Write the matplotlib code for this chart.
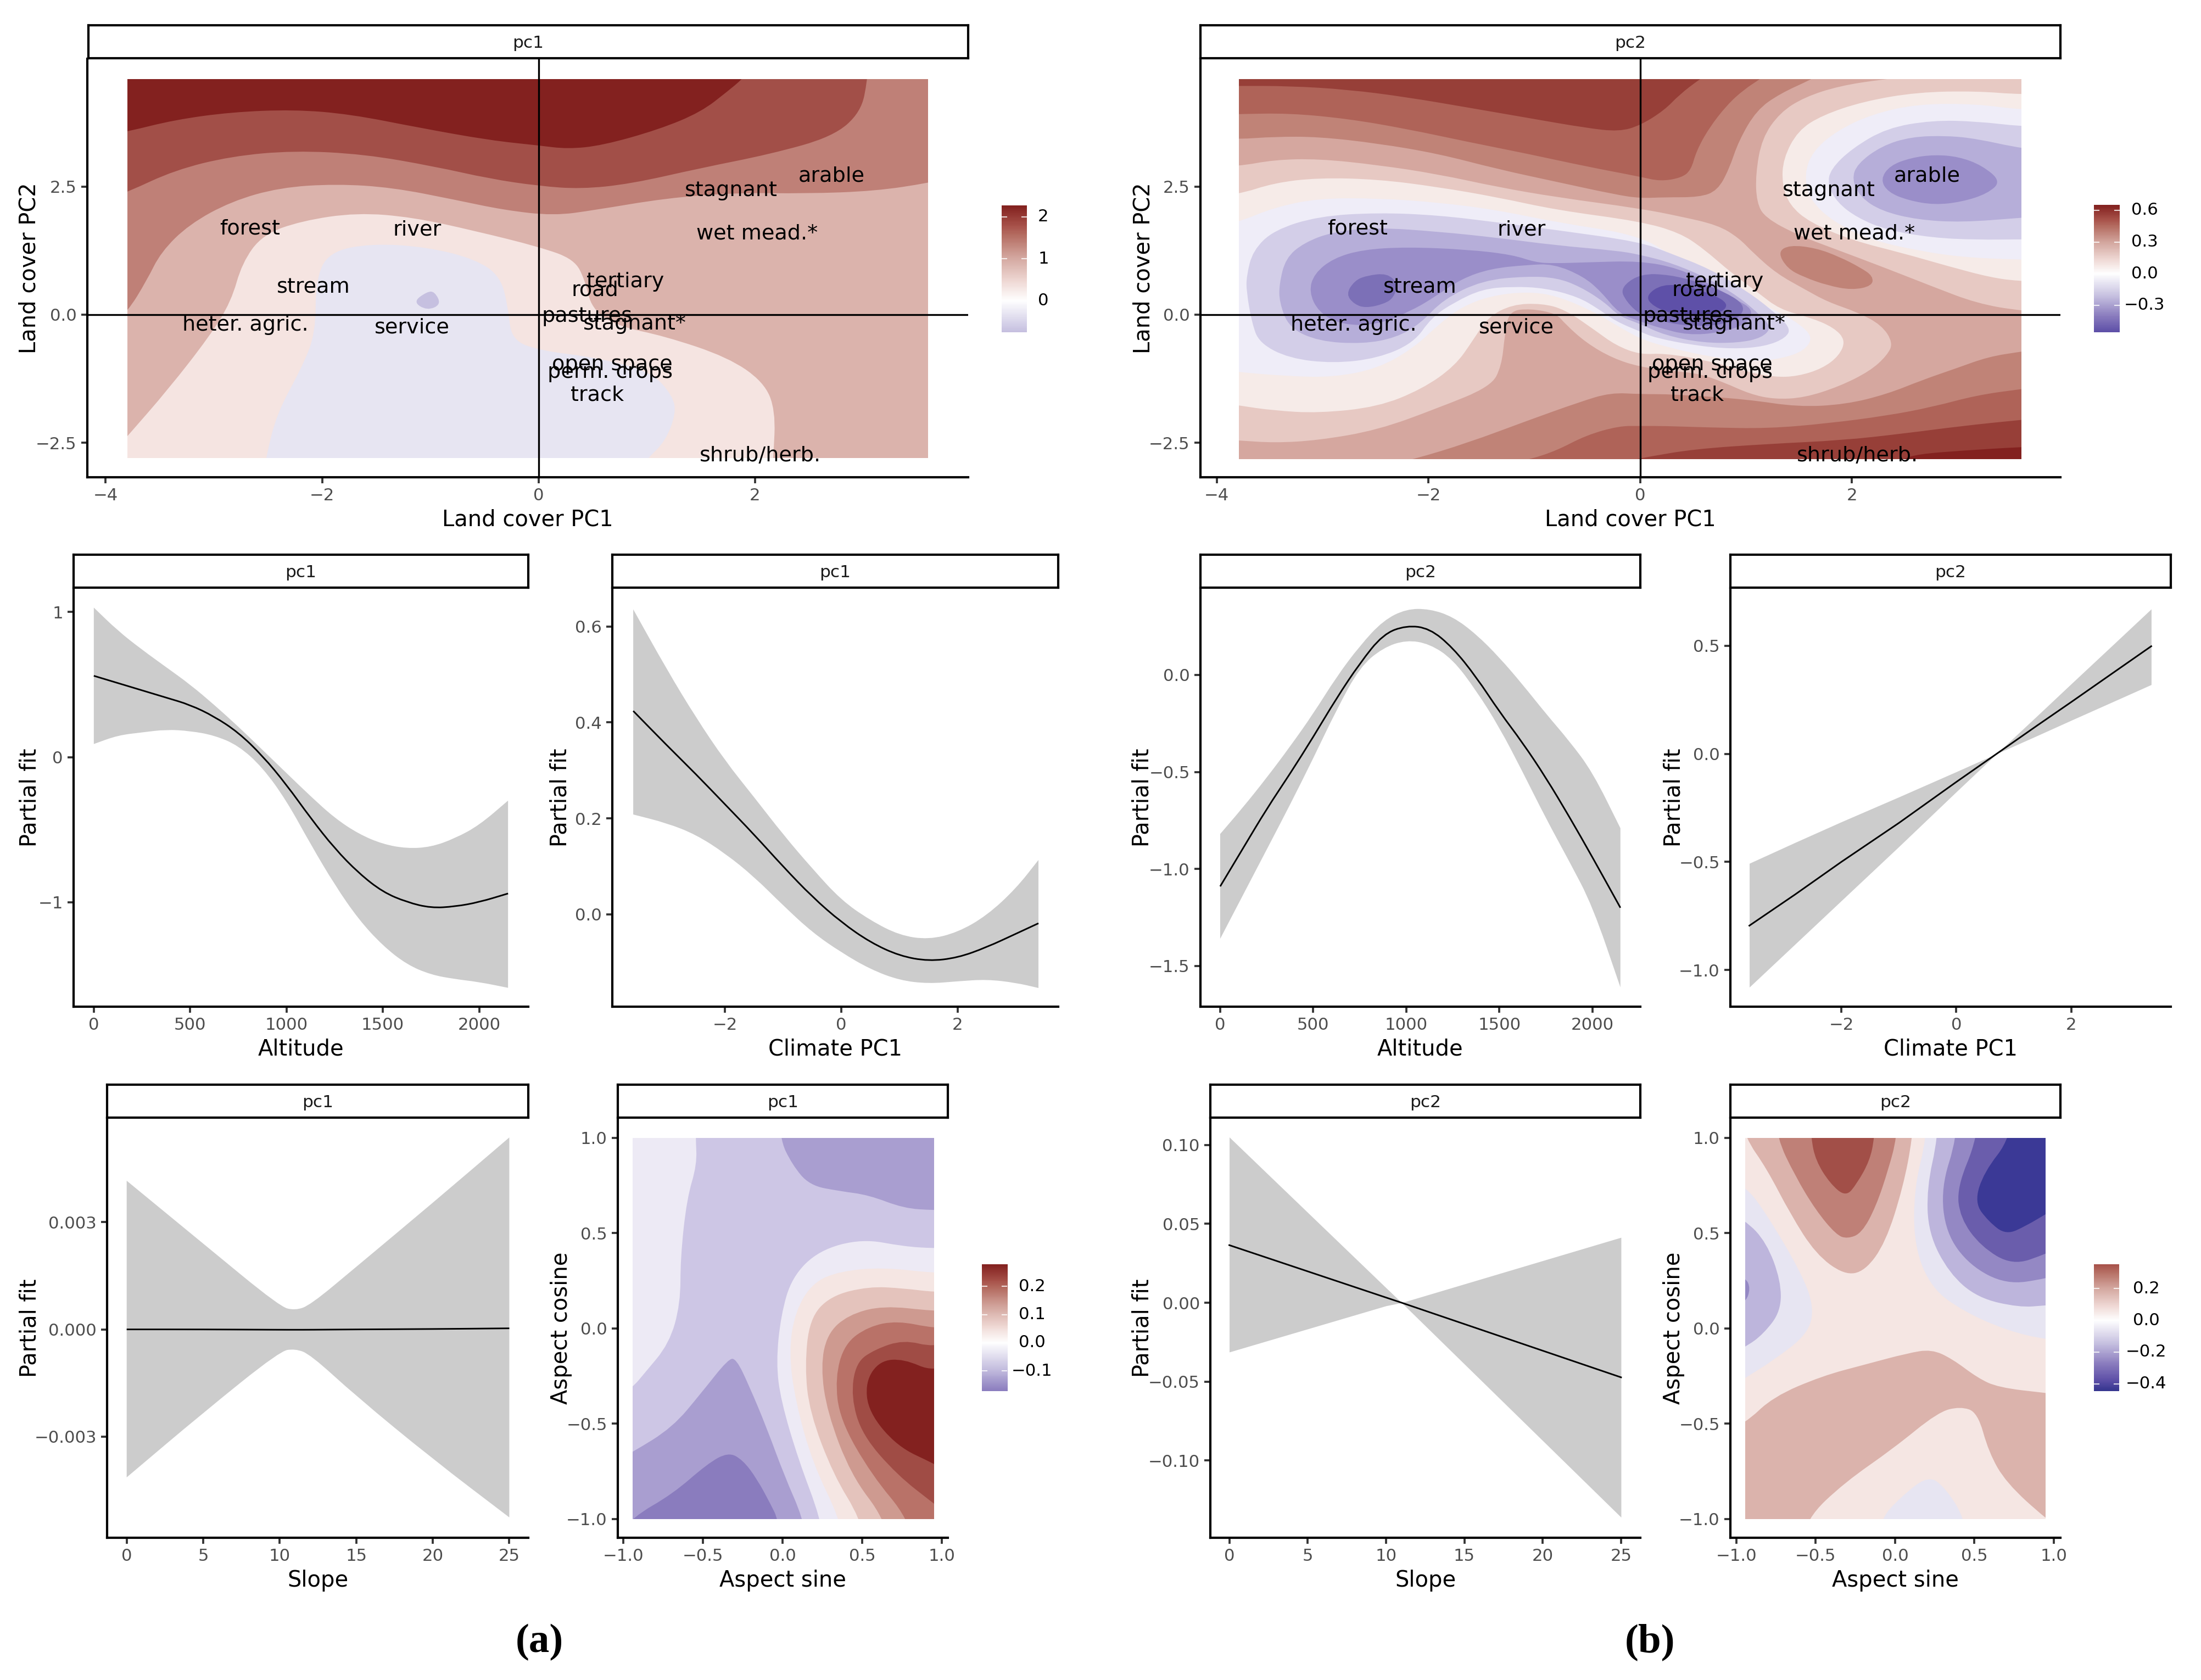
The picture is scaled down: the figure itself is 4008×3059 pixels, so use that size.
import numpy as np
import matplotlib
matplotlib.use('Agg')
import matplotlib.pyplot as plt
from matplotlib.colors import LinearSegmentedColormap, Normalize
from matplotlib.patches import PathPatch, Rectangle
from matplotlib.path import Path

plt.rcParams['font.family'] = 'DejaVu Sans'

W, H = 4008, 3059

# ---- smooth fits ----
alt_x = [0, 125, 250, 375, 500, 625, 750, 875, 1000, 1125, 1250, 1375, 1500, 1625, 1750, 1875, 2000, 2150]
alt1_fit = [0.56, 0.51, 0.46, 0.41, 0.36, 0.28, 0.17, 0.01, -0.19, -0.42, -0.63, -0.80, -0.93, -1.00, -1.04, -1.03, -1.00, -0.94]
alt1_hi = [1.03, 0.87, 0.74, 0.62, 0.50, 0.36, 0.21, 0.05, -0.11, -0.27, -0.42, -0.53, -0.60, -0.63, -0.62, -0.56, -0.47, -0.30]
alt1_lo = [0.09, 0.15, 0.17, 0.19, 0.18, 0.15, 0.08, -0.07, -0.30, -0.60, -0.88, -1.12, -1.30, -1.43, -1.50, -1.53, -1.55, -1.59]
alt2_fit = [-1.09, -0.89, -0.69, -0.51, -0.32, -0.12, 0.06, 0.21, 0.255, 0.24, 0.14, -0.01, -0.19, -0.35, -0.53, -0.73, -0.94, -1.20]
alt2_hi = [-0.82, -0.68, -0.53, -0.37, -0.20, -0.01, 0.15, 0.28, 0.34, 0.34, 0.30, 0.21, 0.09, -0.05, -0.20, -0.34, -0.50, -0.79]
alt2_lo = [-1.36, -1.13, -0.90, -0.67, -0.43, -0.18, 0.04, 0.14, 0.18, 0.16, 0.08, -0.08, -0.27, -0.50, -0.74, -0.96, -1.19, -1.61]

clim1_x = [-3.58, -3, -2.5, -2, -1.5, -1, -0.5, 0, 0.5, 1, 1.5, 2, 2.5, 3, 3.39]
clim1_fit = [0.424, 0.352, 0.292, 0.229, 0.166, 0.099, 0.036, -0.017, -0.059, -0.087, -0.098, -0.091, -0.069, -0.041, -0.019]
clim1_hi = [0.636, 0.51, 0.41, 0.32, 0.244, 0.166, 0.095, 0.029, -0.013, -0.044, -0.053, -0.038, -0.003, 0.053, 0.113]
clim1_lo = [0.208, 0.19, 0.166, 0.127, 0.078, 0.018, -0.038, -0.08, -0.115, -0.138, -0.145, -0.14, -0.136, -0.143, -0.154]
clim2_x = [-3.6, -2.8, -2, -1, 0, 0.7, 1.4, 2, 2.7, 3.39]
clim2_fit = [-0.795, -0.65, -0.50, -0.32, -0.13, 0.0, 0.13, 0.24, 0.37, 0.498]
clim2_hi = [-0.507, -0.41, -0.315, -0.20, -0.083, 0.0, 0.174, 0.324, 0.498, 0.67]
clim2_lo = [-1.08, -0.88, -0.68, -0.43, -0.176, 0.0, 0.083, 0.155, 0.238, 0.32]

slope1_x = [0, 5, 10, 11, 12, 15, 20, 25]
slope1_fit = [0.0, 0.0, -0.00001, -0.00001, -0.00001, 0.0, 0.00001, 0.00003]
slope1_hi = [0.00416, 0.0024, 0.00064, 0.00053, 0.00068, 0.00175, 0.00354, 0.00537]
slope1_lo = [-0.00414, -0.00233, -0.00061, -0.00054, -0.0007, -0.00187, -0.00363, -0.00526]
slope2_x = [0, 10, 11, 25]
slope2_fit = [0.0365, 0.0033, 0.0, -0.0473]
slope2_hi = [0.105, 0.0095, 0.0, 0.0414]
slope2_lo = [-0.0313, -0.002, 0.0, -0.136]

# ---- land cover labels ----
lc_labels = ['forest', 'river', 'stream', 'heter. agric.', 'service', 'tertiary', 'road', 'pastures',
             'stagnant*', 'open space', 'perm. crops', 'track', 'shrub/herb.', 'wet mead.*', 'stagnant', 'arable']
lc_x = [-2.67, -1.12, -2.08, -2.71, -1.17, 0.80, 0.52, 0.45, 0.89, 0.68, 0.66, 0.54, 2.05, 2.02, 1.78, 2.71]
lc_y = [1.68, 1.65, 0.53, -0.20, -0.25, 0.64, 0.48, -0.03, -0.18, -0.97, -1.12, -1.57, -2.75, 1.58, 2.42, 2.70]

# ---- contour outlines, land cover pc1 ----
lc1_a = [(-4.1, 3.45), (-3.80, 3.57), (-3.36, 3.80), (-2.84, 3.95), (-2.26, 4.00), (-1.74, 3.91), (-1.09, 3.64),
         (-0.45, 3.40), (0, 3.30), (0.27, 3.23), (0.59, 3.30), (1.11, 3.61), (1.50, 3.95), (1.75, 4.36), (1.88, 4.59),
         (2.05, 4.97), (5, 5.5), (6, -5), (-6, -5)]
lc1_b = [(-4.1, 2.15), (-3.80, 2.39), (-3.36, 2.82), (-2.84, 3.09), (-2.26, 3.20), (-1.61, 3.13), (-0.96, 2.89),
         (-0.45, 2.65), (0, 2.51), (0.39, 2.45), (0.85, 2.55), (1.50, 2.86), (2.14, 3.13), (2.72, 3.47), (2.98, 3.95),
         (3.04, 4.59), (3.05, 5.0), (5, 5.5), (6, -5), (-6, -5)]
lc1_c = [(-4.0, -0.3), (-3.80, 0.05), (-3.62, 0.67), (-3.49, 1.22), (-3.23, 1.76), (-2.84, 2.21), (-2.39, 2.48),
         (-1.87, 2.55), (-1.35, 2.48), (-0.77, 2.24), (-0.32, 2.04), (0.14, 1.93), (0.52, 2.04), (1.17, 2.27),
         (1.82, 2.38), (2.47, 2.36), (3.11, 2.41), (3.61, 2.57), (4.0, 2.75), (6, -5), (-6, -5)]
lc1_d = [(-4.0, -2.85), (-3.80, -2.37), (-3.42, -1.45), (-3.04, -0.42), (-2.84, 0.26), (-2.74, 1.01), (-2.55, 1.56),
         (-2.19, 1.83), (-1.68, 1.99), (-1.16, 1.90), (-0.58, 1.63), (0.01, 1.32), (0.33, 1.08), (0.43, 0.67),
         (0.49, 0.12), (0.72, -0.22), (1.17, -0.42), (1.75, -0.83), (2.08, -1.31), (2.19, -1.86), (2.17, -2.80),
         (2.15, -3.2), (-4.5, -3.5)]
lc1_e = [(-2.55, -3.2), (-2.52, -2.80), (-2.42, -1.93), (-2.19, -1.04), (-2.06, -0.36), (-2.06, 0.67), (-1.94, 1.22),
         (-1.55, 1.39), (-1.03, 1.32), (-0.58, 1.08), (-0.35, 0.74), (-0.28, 0.12), (-0.25, -0.49), (0.01, -0.70),
         (0.52, -0.83), (1.04, -1.11), (1.24, -1.58), (1.27, -1.93), (1.17, -2.47), (1.01, -2.80), (0.85, -3.2)]
lc1_f = [(-1.03, 0.45), (-1.16, 0.25), (-1.03, 0.08), (-0.90, 0.20), (-0.96, 0.45)]

# ---- land cover pc2, upper and lower warm bands ----
lc2_up3 = [(-4.2, 3.44), (-3.80, 3.42), (-3.46, 3.47), (-3.04, 3.47), (-2.48, 3.34), (-1.91, 3.14), (-1.35, 2.84),
           (-0.79, 2.59), (-0.23, 2.34), (0, 2.27), (0.23, 2.29), (0.56, 2.29), (0.73, 2.42), (0.84, 2.84), (0.93, 3.39),
           (1.10, 3.99), (1.32, 4.31), (1.62, 4.59), (1.9, 4.9), (2.3, 5.5), (-4.5, 5.5)]
lc2_up2 = [(-4.2, 3.90), (-3.80, 3.91), (-3.32, 3.93), (-2.76, 3.82), (-2.20, 3.62), (-1.63, 3.37), (-1.07, 3.14),
           (-0.51, 2.89), (0, 2.69), (0.19, 2.60), (0.39, 2.67), (0.48, 2.82), (0.53, 3.19), (0.65, 3.64), (0.82, 4.09),
           (0.98, 4.39), (1.13, 4.59), (1.3, 4.85), (1.3, 5.5), (-4.5, 5.5)]
lc2_up1 = [(-4.2, 4.46), (-3.80, 4.46), (-3.32, 4.46), (-2.76, 4.39), (-2.20, 4.24), (-1.63, 4.04), (-1.07, 3.84),
           (-0.51, 3.64), (-0.20, 3.57), (0, 3.69), (0.23, 3.99), (0.37, 4.29), (0.56, 4.59), (0.75, 4.85), (0.75, 5.5),
           (-4.5, 5.5)]
lc2_lo3 = [(-2.6, -3.05), (-2.14, -2.82), (-1.63, -2.50), (-1.07, -2.07), (-0.57, -1.70), (-0.28, -1.52), (0, -1.55),
           (0.31, -1.55), (1.01, -1.65), (1.49, -1.80), (1.94, -1.75), (2.33, -1.55), (2.67, -1.27), (2.98, -1.05),
           (3.29, -0.82), (3.60, -0.72), (4, -0.6), (4.5, -3.5), (-2.6, -3.5)]
lc2_lo2 = [(-1.5, -3.05), (-1.04, -2.82), (-0.79, -2.65), (-0.51, -2.35), (-0.20, -2.17), (0, -2.17), (0.23, -2.17),
           (0.65, -2.20), (1.21, -2.22), (1.77, -2.12), (2.33, -1.97), (2.76, -1.80), (3.18, -1.57), (3.60, -1.45),
           (4, -1.35), (4.5, -3.5), (-1.5, -3.5)]
lc2_lo1 = [(-0.4, -3.0), (-0.04, -2.82), (0.08, -2.77), (0.51, -2.62), (1.21, -2.52), (1.91, -2.45), (2.48, -2.32),
           (3.04, -2.17), (3.60, -2.05), (4, -1.98), (4.5, -3.5), (-0.4, -3.5)]
lc2_lo0 = [(2.2, -3.0), (2.48, -2.82), (2.62, -2.72), (3.04, -2.65), (3.60, -2.58), (4, -2.55), (4.5, -3.5), (2.2, -3.5)]
lc2_blob = [(1.30, 1.22), (1.41, 1.36), (1.66, 1.30), (1.88, 1.13), (2.08, 0.92), (2.20, 0.75), (2.19, 0.56), (2.00, 0.48),
            (1.77, 0.57), (1.55, 0.73), (1.39, 0.90)]

# ---- land cover pc2, basin rings ----
lc2_b5 = [(-4.3, 2.87), (-3.80, 2.89), (-3.46, 3.02), (-3.04, 3.04), (-2.48, 2.92), (-1.91, 2.74), (-1.35, 2.49),
          (-0.79, 2.29), (0, 2.07), (0.37, 1.92), (0.73, 1.75), (0.93, 1.50), (1.07, 1.20), (1.29, 0.80), (1.55, 0.50),
          (1.77, 0.25), (2.05, 0.05), (2.28, -0.20), (2.39, -0.55), (2.33, -0.80), (2.17, -1.10), (1.88, -1.40),
          (1.55, -1.62), (1.27, -1.65), (1.04, -1.55), (0.79, -1.32), (0.56, -1.15), (0.31, -1.10), (0, -1.02),
          (-0.26, -0.85), (-0.51, -0.55), (-0.71, -0.18), (-0.79, 0.02), (-1.04, 0.12), (-1.24, 0.07), (-1.28, -0.40),
          (-1.31, -1.00), (-1.41, -1.40), (-1.91, -1.82), (-2.48, -2.25), (-3.04, -2.45), (-3.46, -2.50), (-3.80, -2.45),
          (-4.3, -2.40)]
lc2_b6 = [(-4.3, 2.25), (-3.80, 2.34), (-3.46, 2.57), (-3.04, 2.67), (-2.48, 2.64), (-1.91, 2.49), (-1.35, 2.29),
          (-0.79, 2.04), (0, 1.82), (0.37, 1.60), (0.59, 1.30), (0.87, 0.80), (1.10, 0.45), (1.32, 0.10), (1.60, -0.05),
          (1.83, -0.25), (1.94, -0.50), (1.88, -0.80), (1.72, -1.05), (1.49, -1.20), (1.27, -1.22), (0.98, -1.10),
          (0.65, -0.90), (0.23, -0.75), (0, -0.78), (-0.23, -0.60), (-0.43, -0.30), (-0.71, 0.10), (-0.93, 0.22),
          (-1.21, 0.20), (-1.44, -0.05), (-1.58, -0.50), (-1.75, -1.00), (-2.06, -1.45), (-2.48, -1.80), (-3.04, -1.92),
          (-3.46, -1.87), (-3.80, -1.77), (-4.3, -1.60)]
lc2_b7 = [(-4.3, 1.55), (-3.80, 1.80), (-3.46, 2.09), (-3.04, 2.27), (-2.48, 2.27), (-1.91, 2.19), (-1.35, 2.04),
          (-0.79, 1.80), (0, 1.55), (0.37, 1.05), (0.70, 0.70), (0.98, 0.35), (1.27, 0.10), (1.52, -0.20), (1.63, -0.45),
          (1.55, -0.70), (1.35, -0.85), (1.07, -0.92), (0.65, -0.82), (0.23, -0.62), (0, -0.47), (-0.23, -0.20),
          (-0.45, 0.07), (-0.79, 0.37), (-1.07, 0.45), (-1.41, 0.37), (-1.69, 0.15), (-1.91, -0.20), (-2.14, -0.65),
          (-2.48, -1.05), (-2.90, -1.22), (-3.32, -1.20), (-3.80, -1.12), (-4.3, -1.0)]
lc2_b8 = [(-3.72, 0.75), (-3.66, 1.25), (-3.46, 1.65), (-3.04, 1.92), (-2.48, 1.99), (-1.91, 1.94), (-1.35, 1.80),
          (-0.79, 1.65), (0, 1.42), (0.28, 1.20), (0.65, 0.90), (0.98, 0.50), (1.24, 0.10), (1.42, -0.25), (1.38, -0.45),
          (1.18, -0.62), (0.87, -0.67), (0.51, -0.60), (0.14, -0.45), (0, -0.33), (-0.23, -0.13), (-0.40, 0.12),
          (-0.59, 0.35), (-0.90, 0.52), (-1.21, 0.55), (-1.49, 0.50), (-1.75, 0.25), (-1.97, -0.05), (-2.14, -0.55),
          (-2.48, -0.85), (-2.90, -0.95), (-3.32, -0.85), (-3.60, -0.55), (-3.67, -0.15), (-3.72, 0.45)]
lc2_b9 = [(-3.41, 0.60), (-3.35, 1.10), (-3.18, 1.40), (-2.90, 1.62), (-2.48, 1.70), (-1.91, 1.62), (-1.35, 1.50),
          (-0.79, 1.35), (-0.23, 1.25), (0, 1.17), (0.31, 1.00), (0.65, 0.70), (0.93, 0.35), (1.13, 0.00), (1.24, -0.25),
          (1.15, -0.45), (0.93, -0.55), (0.59, -0.55), (0.23, -0.40), (0, -0.18), (-0.20, -0.03), (-0.34, 0.25),
          (-0.57, 0.55), (-0.79, 0.72), (-1.07, 0.75), (-1.49, 0.67), (-1.86, 0.30), (-2.08, -0.18), (-2.31, -0.45),
          (-2.62, -0.57), (-3.04, -0.52), (-3.32, -0.25), (-3.41, 0.25)]
lc2_b10 = [(-3.13, 0.45), (-3.08, 0.80), (-2.90, 1.10), (-2.62, 1.27), (-2.20, 1.32), (-1.63, 1.27), (-1.21, 1.17),
           (-0.99, 1.02), (-0.82, 1.00), (-0.51, 1.02), (0, 1.05), (0.37, 0.90), (0.65, 0.60), (0.90, 0.30), (1.07, 0.10),
           (1.01, -0.18), (0.76, -0.35), (0.45, -0.40), (0.17, -0.25), (0, -0.13), (-0.20, 0.02), (-0.37, 0.45),
           (-0.54, 0.75), (-0.82, 0.99), (-1.07, 0.97), (-1.41, 0.90), (-1.69, 0.70), (-1.94, 0.35), (-2.14, 0.10),
           (-2.48, -0.20), (-2.82, -0.20), (-3.04, 0.05)]
lc2_b11a = [(-2.78, 0.40), (-2.70, 0.66), (-2.59, 0.76), (-2.39, 0.81), (-2.29, 0.60), (-2.33, 0.33), (-2.42, 0.21),
            (-2.59, 0.13), (-2.70, 0.20)]
lc2_b11b = [(-0.19, 0.52), (0, 0.80), (0.28, 0.78), (0.56, 0.63), (0.82, 0.42), (0.98, 0.20), (0.96, -0.02), (0.79, -0.20),
            (0.45, -0.23), (0.14, -0.10), (0, 0.00), (-0.13, 0.25)]
lc2_b12 = [(0.05, 0.37), (0.21, 0.60), (0.45, 0.55), (0.69, 0.39), (0.83, 0.22), (0.78, 0.05), (0.59, -0.03), (0.34, -0.01),
           (0.12, 0.16)]

# ---- land cover pc2, arable rings ----
lc2_a5 = [(4.4, 5.3), (3.0, 4.75), (2.29, 4.59), (1.88, 4.46), (1.55, 4.24), (1.32, 3.94), (1.15, 3.44), (1.09, 2.74),
          (1.10, 2.19), (1.18, 1.89), (1.49, 1.55), (1.88, 1.25), (2.33, 0.90), (2.76, 0.55), (3.18, 0.22), (3.60, 0.07),
          (4.2, 0.0)]
lc2_a6 = [(4.2, 4.32), (3.60, 4.29), (3.18, 4.36), (2.62, 4.34), (2.11, 4.16), (1.72, 3.89), (1.49, 3.59), (1.35, 3.04),
          (1.34, 2.54), (1.41, 2.14), (1.60, 1.80), (2.00, 1.45), (2.48, 1.20), (2.90, 0.95), (3.32, 0.72), (3.60, 0.65),
          (4.2, 0.6)]
lc2_a7 = [(4.2, 4.0), (3.60, 3.99), (3.18, 4.11), (2.62, 4.11), (2.19, 3.91), (1.86, 3.59), (1.63, 3.19), (1.55, 2.74),
          (1.60, 2.24), (1.83, 1.80), (2.19, 1.45), (2.62, 1.25), (3.04, 1.12), (3.60, 1.07), (4.2, 1.05)]
lc2_a8 = [(4.2, 3.62), (3.60, 3.67), (3.18, 3.77), (2.76, 3.79), (2.33, 3.64), (2.00, 3.24), (1.80, 2.84), (1.77, 2.54),
          (1.86, 2.19), (2.05, 1.89), (2.33, 1.65), (2.76, 1.50), (3.18, 1.46), (3.60, 1.47), (4.2, 1.47)]
lc2_a9 = [(4.2, 3.1), (3.60, 3.24), (3.18, 3.43), (2.90, 3.49), (2.56, 3.47), (2.28, 3.29), (2.05, 2.94), (2.00, 2.64),
          (2.08, 2.29), (2.28, 2.02), (2.62, 1.85), (3.04, 1.80), (3.60, 1.89), (4.2, 1.98)]
lc2_a10 = [(2.27, 2.64), (2.36, 2.91), (2.56, 3.06), (2.78, 3.12), (3.01, 3.08), (3.23, 2.91), (3.41, 2.60), (3.28, 2.36),
           (3.04, 2.20), (2.78, 2.14), (2.53, 2.23), (2.34, 2.39)]

# ---- aspect pc1 ----
asp1_tl = [(-1.1, -0.40), (-0.94, -0.31), (-0.87, -0.24), (-0.71, -0.08), (-0.64, 0.13), (-0.64, 0.37), (-0.60, 0.68),
           (-0.536, 0.86), (-0.545, 1.0), (-0.545, 1.3), (-1.2, 1.3)]
asp1_tr = [(-0.02, 1.3), (-0.02, 1.0), (0.06, 0.86), (0.17, 0.75), (0.36, 0.72), (0.54, 0.70), (0.76, 0.63), (0.95, 0.62),
           (1.1, 0.62), (1.2, 1.3)]
asp1_bl1 = [(-1.1, -0.72), (-0.94, -0.65), (-0.69, -0.52), (-0.51, -0.34), (-0.34, -0.16), (-0.29, -0.16), (-0.21, -0.30),
            (-0.10, -0.52), (0.01, -0.77), (0.13, -1.0), (0.15, -1.15), (-1.2, -1.3)]
asp1_bl2 = [(-1.1, -1.15), (-0.94, -0.99), (-0.69, -0.87), (-0.47, -0.71), (-0.34, -0.65), (-0.25, -0.69), (-0.16, -0.79),
            (-0.07, -0.93), (-0.03, -1.0), (-0.01, -1.15)]
asp1_r1 = [(0.27, -1.2), (0.24, -1.0), (0.10, -0.69), (-0.01, -0.38), (-0.04, -0.18), (-0.01, 0.07), (0.06, 0.27), (0.23, 0.41),
           (0.50, 0.47), (0.76, 0.43), (0.95, 0.42), (1.2, 0.42), (1.2, -1.3)]
asp1_r2 = [(0.40, -1.2), (0.36, -1.0), (0.19, -0.71), (0.08, -0.38), (0.04, -0.12), (0.08, 0.09), (0.19, 0.24), (0.36, 0.30),
           (0.63, 0.32), (0.95, 0.29), (1.2, 0.29), (1.2, -1.3)]
asp1_r3 = [(0.53, -1.2), (0.49, -1.0), (0.32, -0.77), (0.17, -0.44), (0.14, -0.20), (0.17, 0.05), (0.30, 0.17), (0.54, 0.22),
           (0.76, 0.21), (0.95, 0.19), (1.2, 0.19), (1.2, -1.3)]
asp1_r4 = [(0.68, -1.2), (0.64, -1.0), (0.43, -0.77), (0.28, -0.44), (0.24, -0.20), (0.28, -0.03), (0.41, 0.07), (0.63, 0.12),
           (0.95, 0.09), (1.2, 0.09), (1.2, -1.3)]
asp1_r5 = [(0.83, -1.2), (0.79, -1.0), (0.56, -0.77), (0.36, -0.48), (0.33, -0.26), (0.39, -0.08), (0.54, 0.01), (0.72, 0.04),
           (0.95, 0.0), (1.2, 0.0), (1.2, -1.3)]
asp1_r6 = [(1.15, -1.05), (0.95, -0.92), (0.72, -0.77), (0.50, -0.56), (0.43, -0.36), (0.46, -0.18), (0.58, -0.11), (0.76, -0.06),
           (0.95, -0.10), (1.15, -0.05)]
asp1_r7 = [(1.15, -0.8), (0.95, -0.71), (0.72, -0.62), (0.54, -0.44), (0.52, -0.28), (0.61, -0.17), (0.76, -0.16), (0.95, -0.23),
           (1.15, -0.15)]

# ---- aspect pc2 ----
asp2_w1 = [(-1.0, 1.2), (-0.945, 1.0), (-0.81, 0.84), (-0.66, 0.60), (-0.50, 0.39), (-0.32, 0.28), (-0.19, 0.30), (-0.06, 0.45),
           (0.05, 0.74), (0.11, 1.0), (0.12, 1.2)]
asp2_w2 = [(-0.76, 1.2), (-0.745, 1.0), (-0.63, 0.80), (-0.50, 0.62), (-0.37, 0.49), (-0.30, 0.47), (-0.21, 0.50), (-0.12, 0.64),
           (-0.04, 0.84), (0.01, 1.0), (0.02, 1.2)]
asp2_w3 = [(-0.54, 1.2), (-0.53, 1.0), (-0.50, 0.88), (-0.41, 0.76), (-0.31, 0.69), (-0.24, 0.76), (-0.16, 0.88), (-0.13, 1.0),
           (-0.12, 1.2)]
asp2_k1 = [(0.2, 1.3), (0.20, 1.0), (0.12, 0.74), (0.12, 0.43), (0.23, 0.21), (0.43, 0.09), (0.70, -0.01), (0.95, -0.06),
           (1.2, -0.07), (1.2, 1.3)]
asp2_k2 = [(0.28, 1.3), (0.27, 1.0), (0.20, 0.74), (0.21, 0.50), (0.34, 0.29), (0.52, 0.16), (0.78, 0.11), (0.95, 0.12), (1.2, 0.14),
           (1.2, 1.3)]
asp2_k3 = [(0.40, 1.3), (0.39, 1.0), (0.29, 0.74), (0.32, 0.50), (0.47, 0.33), (0.70, 0.23), (0.95, 0.26), (1.2, 0.32), (1.2, 1.3)]
asp2_k4 = [(0.54, 1.3), (0.52, 1.0), (0.39, 0.74), (0.41, 0.58), (0.54, 0.43), (0.74, 0.33), (0.95, 0.39), (1.2, 0.48), (1.2, 1.3)]
asp2_k5 = [(0.76, 1.3), (0.73, 1.0), (0.56, 0.82), (0.50, 0.66), (0.59, 0.56), (0.70, 0.49), (0.83, 0.54), (0.95, 0.60), (1.2, 0.72),
           (1.2, 1.3)]
asp2_kl1 = [(-1.2, 0.85), (-0.945, 0.75), (-0.81, 0.60), (-0.59, 0.29), (-0.51, 0.11), (-0.55, -0.03), (-0.77, -0.17),
            (-0.945, -0.26), (-1.2, -0.4)]
asp2_kl2 = [(-1.2, 0.68), (-0.945, 0.57), (-0.81, 0.45), (-0.72, 0.25), (-0.72, 0.09), (-0.83, -0.03), (-0.945, -0.10), (-1.2, -0.2)]
asp2_kl3 = [(-1.1, 0.30), (-0.945, 0.27), (-0.91, 0.21), (-0.945, 0.13), (-1.1, 0.10)]
asp2_lo = [(-1.2, -0.60), (-0.945, -0.50), (-0.77, -0.36), (-0.46, -0.25), (-0.19, -0.19), (0.08, -0.13), (0.23, -0.11), (0.36, -0.16),
           (0.52, -0.26), (0.65, -0.31), (0.95, -0.34), (1.2, -0.36), (1.2, -1.15), (0.95, -1.0), (0.70, -0.81), (0.59, -0.65),
           (0.52, -0.44), (0.41, -0.41), (0.27, -0.44), (-0.01, -0.63), (-0.32, -0.81), (-0.56, -1.0), (-0.6, -1.2), (-1.2, -1.2)]
asp2_bot = [(-0.13, -1.2), (-0.09, -1.0), (0.03, -0.89), (0.21, -0.77), (0.32, -0.84), (0.44, -1.0), (0.46, -1.2)]

# fill ranges and colour bar ranges
lc1_box = (-3.80, 3.60, -2.80, 4.59)
lc2_box = (-3.79, 3.60, -2.82, 4.59)
asp1_box = (-0.94, 0.95, -1.0, 1.0)
asp2_box = (-0.945, 0.95, -1.0, 1.0)
cb_lc1 = (-0.75, 2.27, [2, 1, 0], ['2', '1', '0'])
cb_lc2 = (-0.555, 0.652, [0.6, 0.3, 0.0, -0.3], ['0.6', '0.3', '0.0', '−0.3'])
cb_asp1 = (-0.172, 0.279, [0.2, 0.1, 0.0, -0.1], ['0.2', '0.1', '0.0', '−0.1'])
cb_asp2 = (-0.445, 0.352, [0.2, 0.0, -0.2, -0.4], ['0.2', '0.0', '−0.2', '−0.4'])

grad = LinearSegmentedColormap.from_list('grad', [
    (0.0, '#36368F'), (0.075, '#5E50A8'), (0.19, '#8A7CBE'), (0.335, '#C6C0E0'), (0.5, '#FFFFFF'),
    (0.6, '#F0DAD6'), (0.73, '#D3A69E'), (0.85, '#B46B60'), (0.895, '#A8524A'), (1.0, '#83211F')])


def px_axes(fig, left, right, top, bottom):
    return fig.add_axes([left / W, 1 - bottom / H, (right - left) / W, (bottom - top) / H])


def fmt_lab(vals, nd):
    return [f'{v:.{nd}f}'.replace('-', '−') for v in vals]


def base_axes(fig, box, strip, title, xlim, ylim, xticks, xlabels, yticks, ylabels, xname, yname, ylab_px, xlab_py):
    left, right, top, bottom = box
    ax = px_axes(fig, left, right, top, bottom)
    ax.set_xlim(xlim)
    ax.set_ylim(ylim)
    ax.set_xticks(xticks, xlabels)
    ax.set_yticks(yticks, ylabels)
    ax.tick_params(length=2.6, width=0.9, color='#333333', labelcolor='#4D4D4D', labelsize=7.4, pad=2)
    for s in ['top', 'right']:
        ax.spines[s].set_visible(False)
    for s in ['left', 'bottom']:
        ax.spines[s].set_linewidth(1.0)
        ax.spines[s].set_color('black')
    fig.text((left + right) / 2 / W, 1 - xlab_py / H, xname, ha='center', va='center', fontsize=9.6)
    fig.text(ylab_px / W, 1 - (top + bottom) / 2 / H, yname, ha='center', va='center', rotation=90, fontsize=9.6)
    st = px_axes(fig, left if left != 159 else 161, right, strip[0], strip[1])
    st.set_xticks([])
    st.set_yticks([])
    for s in st.spines.values():
        s.set_linewidth(1.0)
    st.text(0.5, 0.46, title, transform=st.transAxes, ha='center', va='center', fontsize=7.5, color='#1A1A1A')
    return ax


def open_spline(x, y):
    # quadratic spline through midpoints, ends kept on the first and last reading
    p = np.column_stack([x, y]).astype(float)
    m = (p[:-1] + p[1:]) / 2
    verts = [p[0], m[0]]
    codes = [Path.MOVETO, Path.LINETO]
    for i in range(1, len(p) - 1):
        verts += [p[i], m[i]]
        codes += [Path.CURVE3, Path.CURVE3]
    verts.append(p[-1])
    codes.append(Path.LINETO)
    return verts, codes


def ribbon_smooth(ax, x, fit, hi, lo):
    v1, c1 = open_spline(x, hi)
    v2, c2 = open_spline(x[::-1], lo[::-1])
    c2[0] = Path.LINETO
    ax.add_patch(PathPatch(Path(v1 + v2 + [v1[0]], c1 + c2 + [Path.CLOSEPOLY]), facecolor='#CCCCCC', edgecolor='none', lw=0))
    v3, c3 = open_spline(x, fit)
    ax.add_patch(PathPatch(Path(v3, c3), facecolor='none', edgecolor='black', lw=0.7))


def ribbon(ax, x, fit, hi, lo):
    ax.fill_between(x, lo, hi, color='#CCCCCC', lw=0)
    ax.plot(x, fit, color='black', lw=0.7)


def band(ax, pts, color, box):
    # closed quadratic spline through the midpoints of the outline
    p = np.array(pts, dtype=float)
    m = (p + np.roll(p, -1, axis=0)) / 2
    verts = [m[-1]]
    codes = [Path.MOVETO]
    for i in range(len(p)):
        verts += [p[i], m[i]]
        codes += [Path.CURVE3, Path.CURVE3]
    patch = PathPatch(Path(verts, codes), facecolor=color, edgecolor='none', lw=0, zorder=1)
    ax.add_patch(patch)
    clip = Rectangle((box[0], box[2]), box[1] - box[0], box[3] - box[2], transform=ax.transData)
    patch.set_clip_path(clip)


def field(ax, box, base, bands):
    ax.add_patch(Rectangle((box[0], box[2]), box[1] - box[0], box[3] - box[2], facecolor=base, edgecolor='none', zorder=0.5))
    for pts, col in bands:
        band(ax, pts, col, box)


def colorbar(fig, left, right, top, bottom, spec, lab_x):
    low, high, ticks, labs = spec
    cax = px_axes(fig, left, right, top, bottom)
    lim = max(abs(low), abs(high))
    vals = np.linspace(high, low, 200).reshape(-1, 1)
    cax.imshow(vals, aspect='auto', cmap=grad, norm=Normalize(-lim, lim), extent=(0, 1, low, high))
    for t, lab in zip(ticks, labs):
        cax.plot([0, 0.2], [t, t], color='white', lw=0.5, alpha=0.8)
        cax.plot([0.8, 1], [t, t], color='white', lw=0.5, alpha=0.8)
        y_px = top + (high - t) / (high - low) * (bottom - top)
        fig.text(lab_x / W, 1 - y_px / H, lab, ha='center', va='center', fontsize=7.4, color='black')
    cax.set_xlim(0, 1)
    cax.set_ylim(low, high)
    cax.axis('off')


def lc_text(ax):
    for name, x, y in zip(lc_labels, lc_x, lc_y):
        ax.text(x, y, name, ha='center', va='center', fontsize=9.15, color='black', zorder=4)


fig = plt.figure(figsize=(W / 300, H / 300), dpi=300)

# land cover panels
r1 = [-2.5, 0, 2.5]
ax = base_axes(fig, (159, 1763, 107, 869), (46, 106), 'pc1', (-4.17, 3.97), (-3.17, 4.99), [-4, -2, 0, 2],
               ['−4', '−2', '0', '2'], r1, fmt_lab(r1, 1), 'Land cover PC1', 'Land cover PC2', 54, 947)
field(ax, lc1_box, '#83211F', [(lc1_a, '#A24F48'), (lc1_b, '#BF8077'), (lc1_c, '#DBB3AC'), (lc1_d, '#F5E4E1'),
                               (lc1_e, '#E7E5F2'), (lc1_f, '#C6C0E0')])
ax.axhline(0, color='black', lw=0.8, zorder=3)
ax.axvline(0, color='black', lw=0.8, zorder=3)
lc_text(ax)
colorbar(fig, 1824, 1870, 374, 605, cb_lc1, 1900)

ax = base_axes(fig, (2186, 3752, 107, 869), (46, 106), 'pc2', (-4.155, 3.97), (-3.17, 4.99), [-4, -2, 0, 2],
               ['−4', '−2', '0', '2'], r1, fmt_lab(r1, 1), 'Land cover PC1', 'Land cover PC2', 2082, 947)
field(ax, lc2_box, '#D5A79F', [
    (lc2_up3, '#C08377'), (lc2_up2, '#AF6358'), (lc2_up1, '#973F38'),
    (lc2_lo3, '#C08377'), (lc2_lo2, '#AF6358'), (lc2_lo1, '#973F38'), (lc2_lo0, '#83211F'), (lc2_blob, '#C08377'),
    (lc2_b5, '#E7C9C3'), (lc2_b6, '#F6EBE8'), (lc2_b7, '#EFEDF8'), (lc2_b8, '#D3CEE8'), (lc2_b9, '#B6AED9'),
    (lc2_b10, '#9A8EC9'), (lc2_b11a, '#7C70B7'), (lc2_b11b, '#7C70B7'), (lc2_b12, '#5E50A8'),
    (lc2_a5, '#E7C9C3'), (lc2_a6, '#F6EBE8'), (lc2_a7, '#EFEDF8'), (lc2_a8, '#D3CEE8'), (lc2_a9, '#B6AED9'),
    (lc2_a10, '#9A8EC9')])
ax.axhline(0, color='black', lw=0.8, zorder=3)
ax.axvline(0, color='black', lw=0.8, zorder=3)
lc_text(ax)
colorbar(fig, 3813, 3860, 373, 605, cb_lc2, 3905)

# altitude and climate panels
xt = [0, 500, 1000, 1500, 2000]
xl = ['0', '500', '1000', '1500', '2000']
ax = base_axes(fig, (134, 962, 1072, 1833), (1010, 1070), 'pc1', (-105, 2255), (-1.72, 1.16), xt, xl,
               [-1, 0, 1], ['−1', '0', '1'], 'Altitude', 'Partial fit', 55, 1911)
ribbon_smooth(ax, alt_x, alt1_fit, alt1_hi, alt1_lo)

t2 = [0.0, 0.2, 0.4, 0.6]
ax = base_axes(fig, (1115, 1927, 1072, 1833), (1010, 1070), 'pc1', (-3.94, 3.73), (-0.193, 0.679), [-2, 0, 2],
               ['−2', '0', '2'], t2, fmt_lab(t2, 1), 'Climate PC1', 'Partial fit', 1021, 1911)
ribbon_smooth(ax, clim1_x, clim1_fit, clim1_hi, clim1_lo)

t3 = [-1.5, -1.0, -0.5, 0.0]
ax = base_axes(fig, (2186, 2987, 1072, 1833), (1010, 1070), 'pc2', (-106, 2257), (-1.71, 0.444), xt, xl,
               t3, fmt_lab(t3, 1), 'Altitude', 'Partial fit', 2081, 1911)
ribbon_smooth(ax, alt_x, alt2_fit, alt2_hi, alt2_lo)

t4 = [-1.0, -0.5, 0.0, 0.5]
ax = base_axes(fig, (3151, 3953, 1072, 1833), (1010, 1070), 'pc2', (-3.93, 3.73), (-1.17, 0.764), [-2, 0, 2],
               ['−2', '0', '2'], t4, fmt_lab(t4, 1), 'Climate PC1', 'Partial fit', 3048, 1911)
ribbon(ax, clim2_x, clim2_fit, clim2_hi, clim2_lo)

# slope and aspect panels
st = [0, 5, 10, 15, 20, 25]
sl = ['0', '5', '10', '15', '20', '25']
t5 = [-0.003, 0.0, 0.003]
ax = base_axes(fig, (195, 962, 2036, 2800), (1975, 2035), 'pc1', (-1.28, 26.24), (-0.00583, 0.00591), st, sl,
               t5, fmt_lab(t5, 3), 'Slope', 'Partial fit', 55, 2878)
ribbon_smooth(ax, slope1_x, slope1_fit, slope1_hi, slope1_lo)

at = [-1.0, -0.5, 0.0, 0.5, 1.0]
ax = base_axes(fig, (1125, 1726, 2036, 2800), (1975, 2035), 'pc1', (-1.033, 1.037), (-1.099, 1.103), at, fmt_lab(at, 1),
               at, fmt_lab(at, 1), 'Aspect sine', 'Aspect cosine', 1022, 2878)
field(ax, asp1_box, '#CDC6E5', [
    (asp1_tl, '#EDEAF5'), (asp1_tr, '#A99ED0'), (asp1_bl1, '#A99ED0'), (asp1_bl2, '#8A7CBE'),
    (asp1_r1, '#EDEAF5'), (asp1_r2, '#F5E6E3'), (asp1_r3, '#E4C3BC'), (asp1_r4, '#CE9A90'), (asp1_r5, '#B97268'),
    (asp1_r6, '#A04C45'), (asp1_r7, '#83211F')])
colorbar(fig, 1788, 1834, 2302, 2533, cb_asp1, 1879)

t6 = [-0.10, -0.05, 0.0, 0.05, 0.10]
ax = base_axes(fig, (2204, 2987, 2036, 2800), (1975, 2035), 'pc2', (-1.21, 26.23), (-0.149, 0.117), st, sl,
               t6, fmt_lab(t6, 2), 'Slope', 'Partial fit', 2081, 2878)
ribbon(ax, slope2_x, slope2_fit, slope2_hi, slope2_lo)

ax = base_axes(fig, (3151, 3752, 2036, 2800), (1975, 2035), 'pc2', (-1.038, 1.042), (-1.099, 1.103), at, fmt_lab(at, 1),
               at, fmt_lab(at, 1), 'Aspect sine', 'Aspect cosine', 3048, 2878)
field(ax, asp2_box, '#F5E6E3', [
    (asp2_w1, '#DBB3AC'), (asp2_w2, '#BF8077'), (asp2_w3, '#A24F48'),
    (asp2_k1, '#E7E5F2'), (asp2_k2, '#BDB5DC'), (asp2_k3, '#9488C4'), (asp2_k4, '#6A5DAC'), (asp2_k5, '#3B3996'),
    (asp2_kl1, '#E7E5F2'), (asp2_kl2, '#BDB5DC'), (asp2_kl3, '#9488C4'),
    (asp2_lo, '#DBB3AC'), (asp2_bot, '#E7E5F2')])
colorbar(fig, 3813, 3859, 2302, 2533, cb_asp2, 3908)

fig.text(982 / W, 1 - 2990 / H, '(a)', ha='center', va='center', fontsize=18, family='Liberation Serif', weight='bold')
fig.text(3005 / W, 1 - 2990 / H, '(b)', ha='center', va='center', fontsize=18, family='Liberation Serif', weight='bold')

fig.savefig('out.png', dpi=300)
